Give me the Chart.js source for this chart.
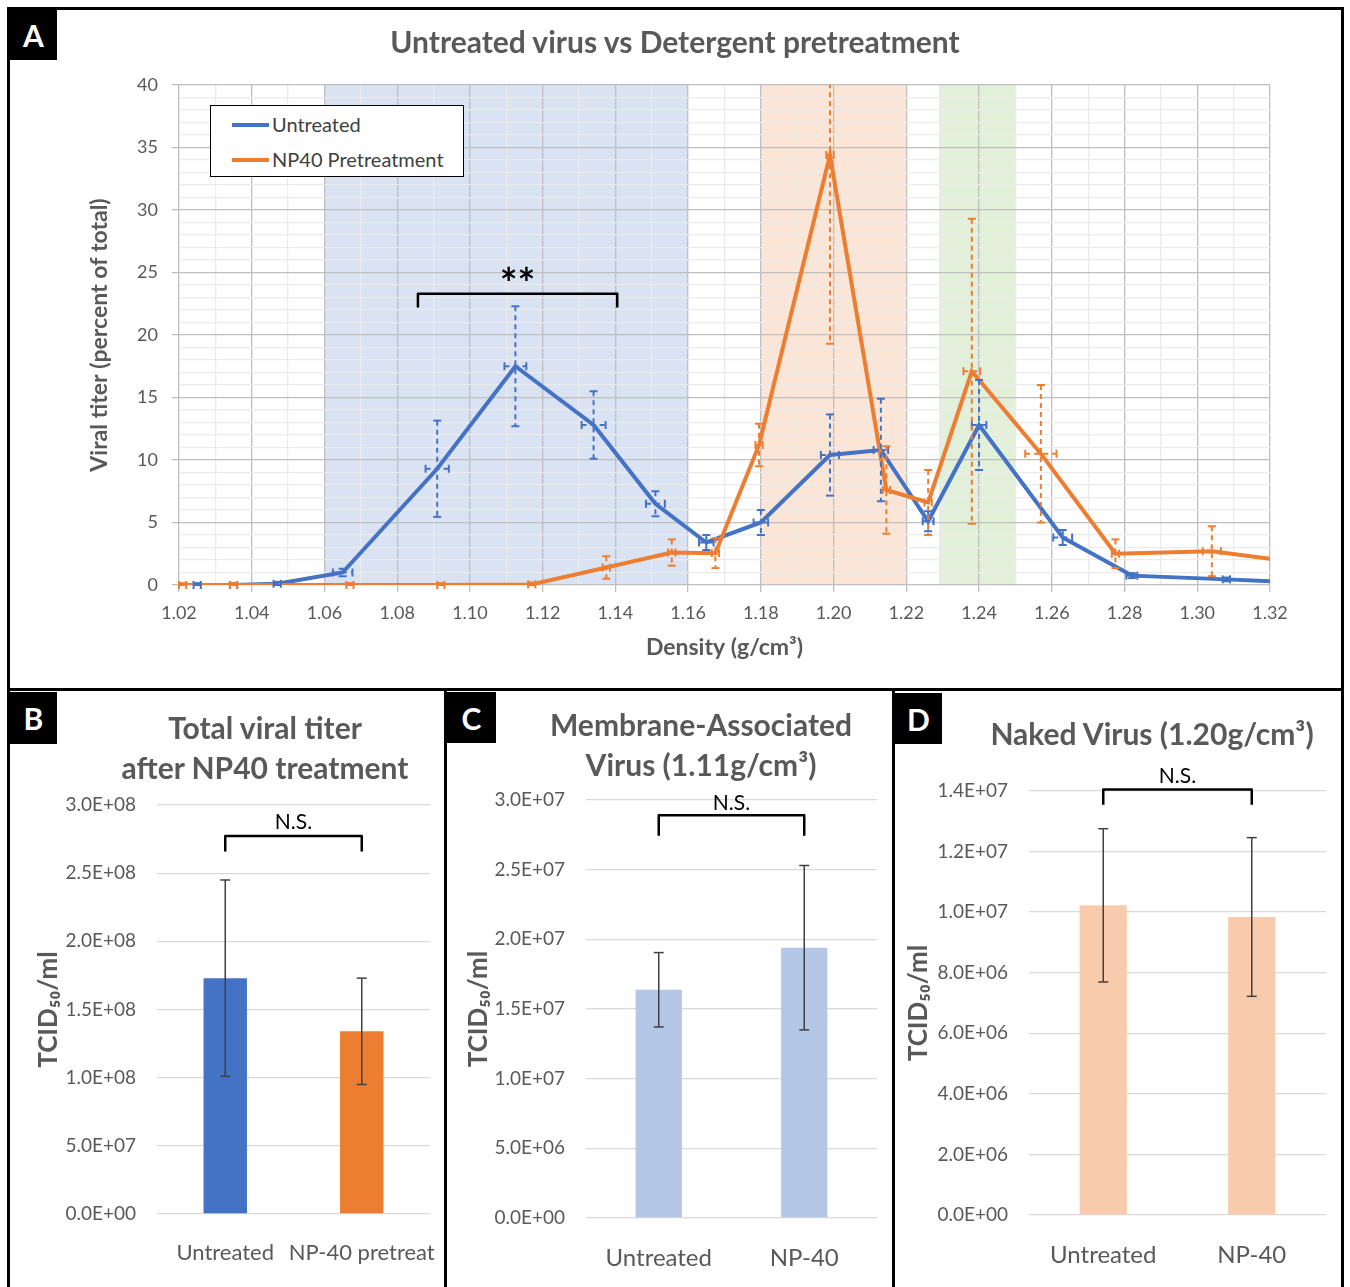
<!DOCTYPE html>
<html>
<head>
<meta charset="utf-8">
<title>Untreated virus vs Detergent pretreatment</title>
<script src="https://cdn.jsdelivr.net/npm/chart.js@4.4.1/dist/chart.umd.min.js"></script>
<style>
    body { margin: 0; background: #fff; }
    #fig { position: relative; width: 1350px; height: 1287px; overflow: hidden; font-family: Lato, "Open Sans", sans-serif; }
    .panel { position: absolute; border: 3px solid #000; box-sizing: border-box; z-index: 1; }
    canvas { position: absolute; z-index: 2; }
    .tag { position: absolute; z-index: 3; background: #000; color: #fff; font-weight: bold; font-size: 30px;
           display: flex; align-items: center; justify-content: center; }
    .title { position: absolute; z-index: 3; color: #595959; font-weight: bold; text-align: center;
             white-space: nowrap; transform: translateX(-50%); line-height: 40px; }
    .legend { position: absolute; z-index: 3; background: #fff; border: 1.5px solid #000; box-sizing: border-box;
              color: #404040; font-size: 20px; }
    .legend .row { position: absolute; left: 21px; height: 24px; line-height: 24px; white-space: nowrap; }
    .legend .swatch { display: inline-block; width: 37px; height: 4px; vertical-align: middle; margin-right: 3px; margin-top: -3px; }
</style>
</head>
<body>
<div id="fig">
    <div class="panel" style="left:7px;top:7px;width:1337px;height:684px;"></div>
    <div class="panel" style="left:7px;top:688px;width:440px;height:640px;"></div>
    <div class="panel" style="left:444px;top:688px;width:451px;height:640px;"></div>
    <div class="panel" style="left:892px;top:688px;width:452px;height:640px;"></div>

    <canvas id="chartA" width="1329" height="676" style="left:11px;top:11px;"></canvas>
    <canvas id="chartB" width="431" height="594" style="left:11px;top:693px;"></canvas>
    <canvas id="chartC" width="441" height="594" style="left:448px;top:693px;"></canvas>
    <canvas id="chartD" width="445" height="594" style="left:895px;top:693px;"></canvas>

    <div class="tag" style="left:10px;top:10px;width:47px;height:50px;">A</div>
    <div class="tag" style="left:10px;top:692px;width:47px;height:52px;">B</div>
    <div class="tag" style="left:447px;top:692px;width:49px;height:51px;">C</div>
    <div class="tag" style="left:895px;top:693px;width:47px;height:51px;">D</div>

    <div class="title" style="left:675px;top:21px;font-size:30px;">Untreated virus vs Detergent pretreatment</div>
    <div class="title" style="left:265px;top:707px;font-size:30px;">Total viral titer<br>after NP40 treatment</div>
    <div class="title" style="left:701px;top:704px;font-size:30px;">Membrane-Associated<br>Virus (1.11g/cm³)</div>
    <div class="title" style="left:1152px;top:713px;font-size:30px;">Naked Virus (1.20g/cm³)</div>

    <div class="legend" style="left:210px;top:105px;width:254px;height:72px;">
        <div class="row" style="top:6px;"><span class="swatch" style="background:#4472C4"></span>Untreated</div>
        <div class="row" style="top:41px;"><span class="swatch" style="background:#ED7D31"></span>NP40 Pretreatment</div>
    </div>
</div>

<script>
// ---- Panel A: gradient fractions ----
const densityTickLabels = ['1.02', '1.04', '1.06', '1.08', '1.10', '1.12', '1.14', '1.16',
    '1.18', '1.20', '1.22', '1.24', '1.26', '1.28', '1.30', '1.32'];
const titerTickLabels = ['0', '5', '10', '15', '20', '25', '30', '35', '40'];

const untreatedDensity = [1.025, 1.035, 1.047, 1.065, 1.091, 1.1125, 1.134, 1.151, 1.165,
    1.180, 1.199, 1.213, 1.226, 1.240, 1.263, 1.282, 1.308, 1.320];
const untreatedTiter = [0, 0, 0.1, 1.0, 9.3, 17.5, 12.8, 6.5, 3.4,
    5.0, 10.4, 10.8, 5.1, 12.8, 3.8, 0.75, 0.45, 0.3];
const untreatedTiterErr = [0.15, 0.15, 0.15, 0.3, 3.85, 4.8, 2.7, 1.0, 0.6,
    1.0, 3.25, 4.1, 0.8, 3.6, 0.6, 0.2, 0.15, 0];
const untreatedDensityErr = [0.001, 0.001, 0.001, 0.0027, 0.0032, 0.003, 0.0033, 0.0026, 0.002,
    0.002, 0.0025, 0.002, 0.0015, 0.002, 0.0026, 0.0015, 0.001, 0];

const np40Density = [1.021, 1.035, 1.067, 1.092, 1.117, 1.1375, 1.1555, 1.1675, 1.1795,
    1.199, 1.2145, 1.226, 1.238, 1.257, 1.2775, 1.304, 1.320];
const np40Titer = [0, 0, 0, 0, 0.05, 1.4, 2.6, 2.55, 11.2,
    34.4, 7.6, 6.6, 17.1, 10.5, 2.5, 2.7, 2.1];
const np40TiterErr = [0.15, 0.15, 0.15, 0.15, 0.15, 0.9, 1.05, 1.2, 1.7,
    15.1, 3.5, 2.6, 12.2, 5.5, 1.15, 2.0, 0];
const np40DensityErr = [0.001, 0.001, 0.001, 0.001, 0.001, 0.001, 0.001, 0.001, 0.001,
    0.001, 0.001, 0.001, 0.0023, 0.0043, 0.001, 0.0025, 0];

// shaded density ranges (membrane-associated, naked, third peak)
const bandStart = [1.06, 1.18, 1.229];
const bandEnd = [1.16, 1.22, 1.25];
const bandColors = ['#DAE3F3', '#FBE5D6', '#E2F0D9'];

// significance bracket over the membrane peak
const starBracketX = [1.0857, 1.1405];
const starBracketY = [23.3, 22.2, 24.0];   // bar, feet, label

// ---- Panels B-D: bar charts ----
const totalGroups = ['Untreated', 'NP-40 pretreat'];
const totalTiter = [1.73e8, 1.34e8];
const totalTiterErr = [0.72e8, 0.39e8];
const totalTickLabels = ['0.0E+00', '5.0E+07', '1.0E+08', '1.5E+08', '2.0E+08', '2.5E+08', '3.0E+08'];
const totalBracket = [2.773e8, 2.659e8, 2.87e8];

const membraneGroups = ['Untreated', 'NP-40'];
const membraneTiter = [1.638e7, 1.94e7];
const membraneTiterErr = [0.267e7, 0.59e7];
const membraneTickLabels = ['0.0E+00', '5.0E+06', '1.0E+07', '1.5E+07', '2.0E+07', '2.5E+07', '3.0E+07'];
const membraneBracket = [2.891e7, 2.744e7, 2.98e7];

const nakedGroups = ['Untreated', 'NP-40'];
const nakedTiter = [1.0225e7, 0.984e7];
const nakedTiterErr = [0.253e7, 0.262e7];
const nakedTickLabels = ['0.0E+00', '2.0E+06', '4.0E+06', '6.0E+06', '8.0E+06', '1.0E+07', '1.2E+07', '1.4E+07'];
const nakedBracket = [1.405e7, 1.355e7, 1.45e7];

const FONT = 'Lato, "Open Sans", sans-serif';
const GREY = '#595959';

// shaded bands under the grid
const bandPlugin = {
    id: 'bands',
    beforeDraw(chart, args, opts) {
        if (!opts.start) return;
        const {ctx, chartArea} = chart;
        const xs = chart.scales.x;
        ctx.save();
        opts.start.forEach((s, i) => {
            const x0 = xs.getPixelForValue(s);
            const x1 = xs.getPixelForValue(opts.end[i]);
            ctx.fillStyle = opts.colors[i];
            ctx.fillRect(x0, chartArea.top, x1 - x0, chartArea.bottom - chartArea.top);
        });
        ctx.restore();
    }
};

function capLine(ctx, x0, y0, x1, y1) {
    ctx.beginPath();
    ctx.moveTo(x0, y0);
    ctx.lineTo(x1, y1);
    ctx.stroke();
}

// error bars (vertical, optional horizontal), clipped to the plot area
const errorBarPlugin = {
    id: 'errorBars',
    afterDatasetsDraw(chart) {
        const ctx = chart.ctx;
        const area = chart.chartArea;
        const xs = chart.scales.x, ys = chart.scales.y;
        chart.data.datasets.forEach((ds, di) => {
            if (!ds.yErr) return;
            const meta = chart.getDatasetMeta(di);
            ctx.save();
            ctx.beginPath();
            ctx.rect(area.left - 10, area.top, area.right - area.left + 20, area.bottom - area.top + 10);
            ctx.clip();
            ctx.strokeStyle = ds.errColor || ds.borderColor;
            ctx.lineWidth = ds.errWidth || 2;
            const cap = ds.capSize || 5;
            meta.data.forEach((el, j) => {
                const raw = ds.data[j];
                const v = typeof raw === 'number' ? raw : raw.y;
                const px = el.x;
                const e = ds.yErr[j];
                if (e > 0) {
                    const yTop = ys.getPixelForValue(v + e);
                    const yBot = ys.getPixelForValue(Math.max(0, v - e));
                    ctx.setLineDash(ds.errDash || []);
                    capLine(ctx, px, yTop, px, yBot);
                    ctx.setLineDash([]);
                    capLine(ctx, px - cap, yTop, px + cap, yTop);
                    capLine(ctx, px - cap, yBot, px + cap, yBot);
                }
                if (ds.xErr && ds.xErr[j] > 0) {
                    const py = el.y;
                    const xl = xs.getPixelForValue(raw.x - ds.xErr[j]);
                    const xr = xs.getPixelForValue(raw.x + ds.xErr[j]);
                    ctx.setLineDash(ds.errDash || []);
                    capLine(ctx, xl, py, xr, py);
                    ctx.setLineDash([]);
                    capLine(ctx, xl, py - cap, xl, py + cap);
                    capLine(ctx, xr, py - cap, xr, py + cap);
                }
            });
            ctx.restore();
        });
    }
};

// significance bracket
const bracketPlugin = {
    id: 'bracket',
    afterDraw(chart, args, opts) {
        if (!opts.x) return;
        const ctx = chart.ctx;
        const xs = chart.scales.x, ys = chart.scales.y;
        const x0 = xs.getPixelForValue(opts.x[0]);
        const x1 = xs.getPixelForValue(opts.x[1]);
        const yBar = ys.getPixelForValue(opts.y[0]);
        const yFoot = ys.getPixelForValue(opts.y[1]);
        const yText = ys.getPixelForValue(opts.y[2]);
        ctx.save();
        ctx.strokeStyle = '#000';
        ctx.lineWidth = 2.5;
        ctx.lineJoin = 'round';
        ctx.beginPath();
        ctx.moveTo(x0, yFoot);
        ctx.lineTo(x0, yBar);
        ctx.lineTo(x1, yBar);
        ctx.lineTo(x1, yFoot);
        ctx.stroke();
        ctx.fillStyle = '#000';
        ctx.font = opts.font;
        ctx.textAlign = 'center';
        ctx.textBaseline = 'middle';
        ctx.fillText(opts.label, (x0 + x1) / 2, yText);
        ctx.restore();
    }
};

const isMajorDensity = v => Math.round(v * 100) % 2 === 0;
const isMajorTiter = v => Math.round(v) % 5 === 0;

function createDensityChart() {
    const ctx = document.getElementById('chartA').getContext('2d');
    return new Chart(ctx, {
        type: 'line',
        data: {
            datasets: [{
                label: 'Untreated',
                data: untreatedDensity.map((x, i) => ({x: x, y: untreatedTiter[i]})),
                yErr: untreatedTiterErr,
                xErr: untreatedDensityErr,
                borderColor: '#4472C4',
                borderWidth: 4,
                pointRadius: 0,
                errDash: [5, 4],
                capSize: 4,
                order: 1
            }, {
                label: 'NP40 Pretreatment',
                data: np40Density.map((x, i) => ({x: x, y: np40Titer[i]})),
                yErr: np40TiterErr,
                xErr: np40DensityErr,
                borderColor: '#ED7D31',
                borderWidth: 4,
                pointRadius: 0,
                errDash: [5, 4],
                capSize: 4,
                order: 0
            }]
        },
        options: {
            responsive: false,
            animation: false,
            devicePixelRatio: 1,
            layout: {padding: {top: 74, right: 70, left: 0, bottom: 0}},
            plugins: {
                legend: {display: false},
                tooltip: {enabled: false},
                bands: {start: bandStart, end: bandEnd, colors: bandColors},
                bracket: {x: starBracketX, y: starBracketY, label: '**', font: 'bold 42px ' + FONT}
            },
            scales: {
                x: {
                    type: 'linear',
                    min: 1.02,
                    max: 1.32,
                    afterFit: s => { s.height = 102; },
                    ticks: {
                        stepSize: 0.01,
                        autoSkip: false,
                        maxRotation: 0,
                        padding: 10,
                        color: GREY,
                        font: {family: FONT, size: 18},
                        callback: v => isMajorDensity(v) ? densityTickLabels[Math.round((v - 1.02) / 0.02)] : ''
                    },
                    grid: {
                        color: c => isMajorDensity(c.tick.value) ? '#BFBFBF' : '#EBEBEB',
                        tickColor: c => isMajorDensity(c.tick.value) ? '#BFBFBF' : 'rgba(0,0,0,0)',
                        tickLength: 7,
                        lineWidth: 1.3
                    },
                    border: {display: false},
                    title: {
                        display: true,
                        text: 'Density (g/cm³)',
                        color: GREY,
                        font: {family: FONT, size: 23, weight: 'bold'},
                        padding: {top: 0, bottom: 26}
                    }
                },
                y: {
                    min: 0,
                    max: 40,
                    afterFit: s => { s.width = 168; },
                    ticks: {
                        stepSize: 1,
                        autoSkip: false,
                        padding: 14,
                        color: GREY,
                        font: {family: FONT, size: 18},
                        callback: v => isMajorTiter(v) ? titerTickLabels[Math.round(v / 5)] : ''
                    },
                    grid: {
                        color: c => isMajorTiter(c.tick.value) ? '#BFBFBF' : '#EBEBEB',
                        tickColor: c => isMajorTiter(c.tick.value) ? '#BFBFBF' : 'rgba(0,0,0,0)',
                        tickLength: 7,
                        lineWidth: 1.3
                    },
                    border: {display: false},
                    title: {
                        display: true,
                        text: 'Viral titer (percent of total)',
                        color: GREY,
                        font: {family: FONT, size: 23, weight: 'bold'},
                        padding: {top: 75, bottom: 0}
                    }
                }
            }
        },
        plugins: [bandPlugin, errorBarPlugin, bracketPlugin]
    });
}

function createTiterBarChart(id, groups, values, errors, tickLabels, max, step, colors, box, bracket) {
    const ctx = document.getElementById(id).getContext('2d');
    return new Chart(ctx, {
        type: 'bar',
        data: {
            labels: groups,
            datasets: [{
                data: values,
                yErr: errors,
                backgroundColor: colors,
                errColor: '#404040',
                errWidth: 1.5,
                capSize: 5,
                barPercentage: 0.318,
                categoryPercentage: 1
            }]
        },
        options: {
            responsive: false,
            animation: false,
            devicePixelRatio: 1,
            layout: {padding: {top: box.top, right: box.right, left: 0, bottom: 0}},
            plugins: {
                legend: {display: false},
                tooltip: {enabled: false},
                bracket: {x: [0, 1], y: bracket, label: 'N.S.', font: '21px ' + FONT}
            },
            scales: {
                x: {
                    afterFit: s => {
                        s.height = box.xHeight;
                        s.paddingLeft = 0;
                        s.paddingRight = 0;
                    },
                    ticks: {
                        padding: 18,
                        autoSkip: false,
                        maxRotation: 0,
                        minRotation: 0,
                        color: GREY,
                        font: {family: FONT, size: box.labelSize}
                    },
                    grid: {display: false},
                    border: {display: false}
                },
                y: {
                    min: 0,
                    max: max,
                    afterFit: s => { s.width = box.yWidth; },
                    ticks: {
                        stepSize: step,
                        padding: 21,
                        color: GREY,
                        font: {family: FONT, size: 19},
                        callback: v => tickLabels[Math.round(v / step)]
                    },
                    grid: {color: '#D9D9D9', lineWidth: 1.3, drawTicks: false},
                    border: {display: false},
                    title: {
                        display: true,
                        text: 'TCID₅₀/ml',
                        color: GREY,
                        font: {family: FONT, size: 26, weight: 'bold'},
                        padding: {top: box.titleOffset, bottom: 0}
                    }
                }
            }
        },
        plugins: [errorBarPlugin, bracketPlugin]
    });
}

document.addEventListener('DOMContentLoaded', () => {
    window.charts = [
        createDensityChart(),
        createTiterBarChart('chartB', totalGroups, totalTiter, totalTiterErr, totalTickLabels, 3e8, 5e7,
            ['#4472C4', '#ED7D31'],
            {top: 112, right: 12, xHeight: 73, yWidth: 146, titleOffset: 22, labelSize: 22}, totalBracket),
        createTiterBarChart('chartC', membraneGroups, membraneTiter, membraneTiterErr, membraneTickLabels, 3e7, 5e6,
            ['#B4C7E7', '#B4C7E7'],
            {top: 107, right: 12, xHeight: 69, yWidth: 138, titleOffset: 15, labelSize: 24}, membraneBracket),
        createTiterBarChart('chartD', nakedGroups, nakedTiter, nakedTiterErr, nakedTickLabels, 1.4e7, 2e6,
            ['#F8CBAD', '#F8CBAD'],
            {top: 98, right: 14, xHeight: 72, yWidth: 134, titleOffset: 8, labelSize: 24}, nakedBracket)
    ];
});
</script>
</body>
</html>
